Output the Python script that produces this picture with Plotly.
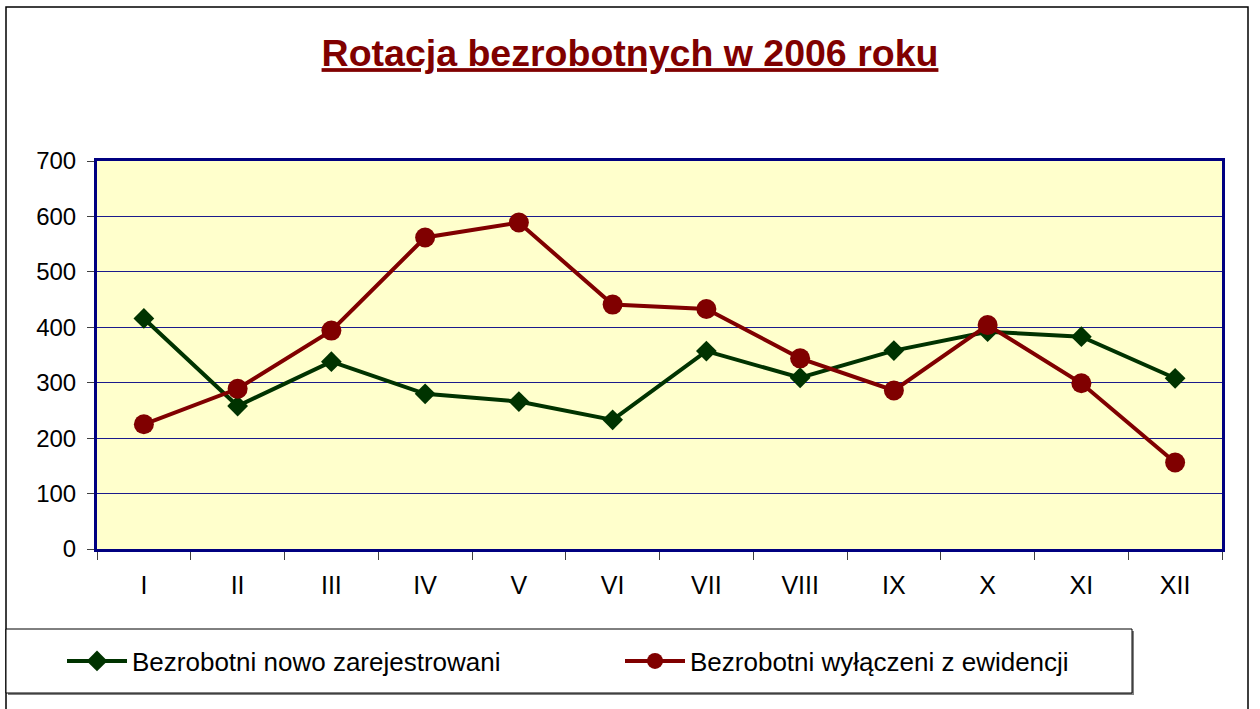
import plotly.graph_objects as go

months = ["I", "II", "III", "IV", "V", "VI", "VII", "VIII", "IX", "X", "XI", "XII"]
nowo = [416, 258, 338, 280, 266, 233, 357, 309, 358, 392, 383, 308]
wylaczeni = [225, 289, 394, 562, 589, 441, 433, 344, 286, 404, 299, 156]
y_ticks = [0, 100, 200, 300, 400, 500, 600, 700]

W, H = 1260, 709
L, R, T, B = 97, 38, 161, 160
PW, PH = W - L - R, H - T - B

def px(x):
    return (x - L) / PW

def py(y):
    return (H - B - y) / PH

FONT = "Liberation Sans, Arial, sans-serif"

fig = go.Figure()
fig.add_trace(go.Scatter(
    x=months, y=nowo, name="Bezrobotni nowo zarejestrowani",
    mode="lines+markers",
    line=dict(color="#003300", width=4),
    marker=dict(symbol="diamond", size=16, color="#003300"),
))
fig.add_trace(go.Scatter(
    x=months, y=wylaczeni, name="Bezrobotni wyłączeni z ewidencji",
    mode="lines+markers",
    line=dict(color="#800000", width=4),
    marker=dict(symbol="circle", size=20, color="#800000"),
))

shapes = [
    # outer chart border
    dict(type="rect", xref="paper", yref="paper",
         x0=px(6), x1=px(1248), y0=py(715), y1=py(7),
         line=dict(color="black", width=1.5), layer="below"),
    # legend shadow
    dict(type="rect", xref="paper", yref="paper",
         x0=px(8), x1=px(1134), y0=py(695), y1=py(631),
         line=dict(width=0), fillcolor="#808080", layer="below"),
    # legend box
    dict(type="rect", xref="paper", yref="paper",
         x0=px(6), x1=px(1132), y0=py(693), y1=py(629),
         line=dict(color="black", width=1), fillcolor="white", layer="below"),
]

fig.update_layout(
    width=W, height=H,
    margin=dict(l=L, r=R, t=T, b=B, autoexpand=False),
    paper_bgcolor="white",
    plot_bgcolor="#FFFFCC",
    font=dict(family=FONT, color="black", size=24),
    title=dict(
        text="<u>Rotacja bezrobotnych w 2006 roku</u>",
        x=0.5, xref="container", xanchor="center",
        y=1 - 53 / H, yref="container", yanchor="middle",
        font=dict(family=FONT, size=37.5, color="#800000", weight="bold"),
    ),
    xaxis=dict(
        type="category", range=[-0.5, 11.5],
        tickson="boundaries", ticks="outside", ticklen=8, tickcolor="#404040",
        showgrid=False, showline=True, linecolor="#000080", linewidth=3,
        mirror=True, tickfont=dict(size=25), fixedrange=True,
        ticklabelstandoff=12, automargin=False,
    ),
    yaxis=dict(
        range=[0, 700], tickvals=y_ticks, ticks="outside", ticklen=7,
        tickcolor="#404040", showgrid=True, gridcolor="#1a1a8c", gridwidth=1,
        showline=True, linecolor="#000080", linewidth=3, mirror=True,
        zeroline=False, tickfont=dict(size=24), fixedrange=True,
        ticklabelstandoff=6, automargin=False,
    ),
    showlegend=True,
    legend=dict(
        orientation="h", x=px(62), y=py(661), xanchor="left", yanchor="middle",
        xref="paper", yref="paper",
        bgcolor="rgba(0,0,0,0)", borderwidth=0,
        font=dict(size=26), itemwidth=60, entrywidth=483, entrywidthmode="pixels",
        itemclick=False, itemdoubleclick=False,
    ),
    shapes=shapes,
)

fig.write_html(
    "out.html",
    config={"displayModeBar": False},
    post_script="document.body.style.margin='0';",
)
